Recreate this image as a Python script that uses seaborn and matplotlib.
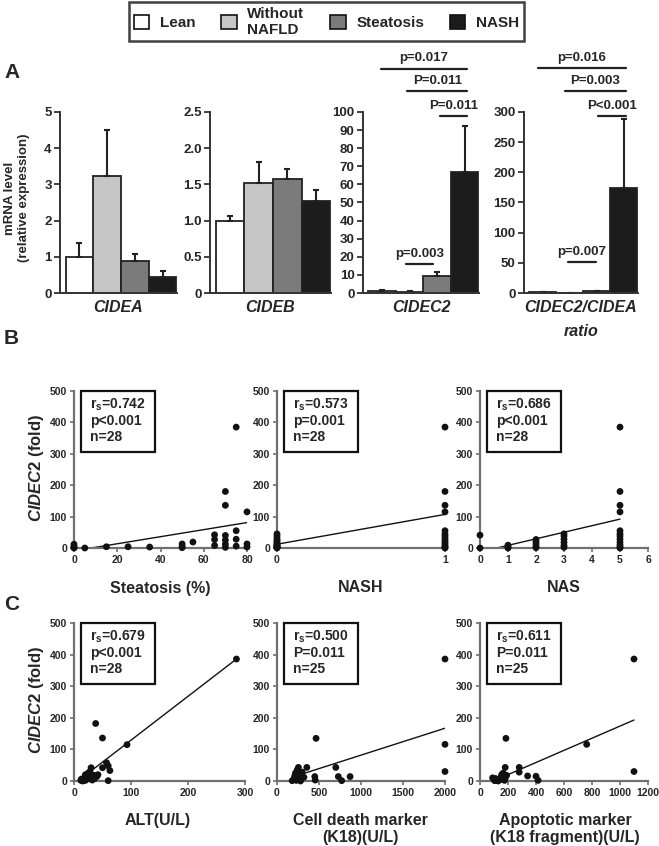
import numpy as np
import pandas as pd
import matplotlib
matplotlib.use('Agg')
import matplotlib.pyplot as plt
import seaborn as sns
from matplotlib.patches import Patch, Rectangle

# ---------------- data ----------------
groups = ['Lean', 'Without\nNAFLD', 'Steatosis', 'NASH']
group_colors = ['#ffffff', '#c6c6c6', '#7b7b7b', '#1c1c1c']

cidea_mean = [1.0, 3.24, 0.88, 0.44]
cidea_err = [0.38, 1.26, 0.19, 0.16]
cideb_mean = [1.0, 1.52, 1.57, 1.27]
cideb_err = [0.07, 0.29, 0.14, 0.15]
cidec2_mean = [1.3, 0.7, 9.6, 67.0]
cidec2_err = [0.3, 0.2, 2.0, 25.0]
ratio_mean = [1.0, 0.5, 3.0, 174.0]
ratio_err = [0.3, 0.2, 1.0, 114.0]

# significance annotations: (from, to, y, label)
cidec2_sig = [(-0.05, 3.1, 124, 'p=0.017'), (0.9, 3.1, 111.5, 'P=0.011'),
              (2.1, 3.1, 97.8, 'P=0.011'), (0.85, 1.85, 16, 'p=0.003')]
ratio_sig = [(-0.2, 3.07, 373, 'p=0.016'), (0.8, 3.07, 335, 'P=0.003'),
             (2.03, 3.07, 293, 'P<0.001'), (0.93, 1.95, 51, 'p=0.007')]

steatosis_x = [0, 0, 0, 0, 5, 15, 25, 35, 50, 50, 50, 55, 65, 65, 65, 70, 70, 70, 70, 70,
               75, 75, 75, 75, 80, 80, 80, 70]
steatosis_y = [12, 6, 2, 0, 0, 4, 4, 3, 13, 5, 1, 19, 42, 27, 8, 180, 136, 40, 12, 2,
               385, 55, 28, 6, 115, 13, 3, 25]
steatosis_fit_x = [8, 80]
steatosis_fit_y = [0, 81]

nash_x = [0] * 14 + [1] * 14
nash_y = [45, 38, 30, 25, 20, 15, 12, 8, 6, 4, 3, 2, 1, 0,
          385, 180, 136, 115, 55, 45, 38, 30, 24, 18, 12, 6, 2, 0]
nash_fit_x = [0, 1]
nash_fit_y = [12, 107]

nas_x = [0, 0, 1, 1, 1, 2, 2, 2, 2, 2, 3, 3, 3, 3, 3, 3] + [5] * 12
nas_y = [41, 0, 9, 4, 0, 27, 20, 13, 5, 1, 45, 38, 28, 18, 8, 2,
         385, 180, 136, 115, 55, 45, 38, 28, 18, 10, 4, 0]
nas_fit_x = [0.6, 5]
nas_fit_y = [0, 92]

alt_x = [285, 38, 50, 93, 57, 60, 63, 50, 30, 60, 12, 13, 15, 18, 20, 22, 24, 25, 27, 28,
         30, 32, 35, 36, 40, 42, 20, 16]
alt_y = [386, 182, 136, 115, 58, 48, 33, 42, 42, 1, 2, 6, 0, 10, 20, 5, 15, 25, 8, 30,
         12, 3, 18, 8, 14, 20, 2, 1]
alt_fit_x = [12, 285]
alt_fit_y = [7, 386]

k18_x = [2000, 2000, 2000, 465, 700, 730, 770, 870, 355, 255, 450, 455, 200, 210, 220,
         230, 240, 250, 260, 270, 280, 290, 300, 180, 320]
k18_y = [386, 116, 30, 135, 43, 14, 1, 14, 43, 43, 14, 3, 5, 15, 25, 2, 35, 10, 20, 5,
         0, 8, 28, 1, 12]
k18_fit_x = [180, 2000]
k18_fit_y = [12, 167]

k18f_x = [1100, 1100, 762, 185, 180, 280, 280, 340, 400, 415, 90, 100, 110, 120, 130,
          140, 150, 155, 160, 165, 170, 175, 180, 190, 105]
k18f_y = [386, 30, 116, 135, 43, 43, 28, 16, 15, 2, 10, 5, 8, 2, 0, 4, 12, 20, 6, 25,
          14, 2, 9, 18, 1]
k18f_fit_x = [95, 1100]
k18f_fit_y = [0, 193]

stats = {
    'B1': ['r$_{\\rm s}$=0.742', 'p<0.001', 'n=28'],
    'B2': ['r$_{\\rm s}$=0.573', 'p=0.001', 'n=28'],
    'B3': ['r$_{\\rm s}$=0.686', 'p<0.001', 'n=28'],
    'C1': ['r$_{\\rm s}$=0.679', 'p<0.001', 'n=28'],
    'C2': ['r$_{\\rm s}$=0.500', 'P=0.011', 'n=25'],
    'C3': ['r$_{\\rm s}$=0.611', 'P=0.011', 'n=25'],
}

# ---------------- style ----------------
sns.set_theme(style='ticks')
plt.rcParams['font.family'] = ['Liberation Sans', 'DejaVu Sans']
plt.rcParams['font.weight'] = 'bold'
plt.rcParams['mathtext.fontset'] = 'custom'
plt.rcParams['mathtext.rm'] = 'Liberation Sans:bold'
plt.rcParams['mathtext.it'] = 'Liberation Sans:italic:bold'
plt.rcParams['mathtext.bf'] = 'Liberation Sans:bold'

W, H = 659, 846
fig = plt.figure(figsize=(W / 100, H / 100), dpi=100)
fig.patch.set_facecolor('white')


def add_ax(left, top, right, bottom):
    return fig.add_axes([left / W, 1 - bottom / H, (right - left) / W, (bottom - top) / H])


def bar_panel(ax, means, errs, ymax, yticks, yticklabels, sig=None):
    df = pd.DataFrame({'group': groups, 'value': means})
    sns.barplot(data=df, x='group', y='value', hue='group', palette=group_colors,
                width=1.0, edgecolor='#222222', linewidth=1.3, legend=False, ax=ax)
    ax.errorbar(np.arange(4), means, yerr=[np.zeros(4), errs], fmt='none',
                ecolor='#222222', elinewidth=1.5, capsize=2.5, capthick=1.5, zorder=1)
    ax.set_xlim(-0.7, 3.52)
    ax.set_ylim(0, ymax)
    ax.set_yticks(yticks)
    ax.set_yticklabels(yticklabels)
    ax.set_xticks([])
    ax.set_xlabel('')
    ax.set_ylabel('')
    sns.despine(ax=ax)
    for s in ['left', 'bottom']:
        ax.spines[s].set_linewidth(1.4)
        ax.spines[s].set_color('#333333')
    ax.tick_params(axis='y', length=4, width=1.3, color='#333333', labelsize=9.5, pad=2)
    for lab in ax.get_yticklabels():
        lab.set_fontweight('bold')
    ax.set_facecolor('none')
    if sig:
        for x0, x1, y, lab in sig:
            ax.plot([x0, x1], [y, y], color='#222222', lw=1.6, clip_on=False)
            ax.annotate(lab, xy=((x0 + x1) / 2, y), xytext=(0, 3), textcoords='offset points',
                        ha='center', va='bottom', fontsize=9.5, fontweight='bold',
                        annotation_clip=False)


def scatter_panel(ax, x, y, fx, fy, xmax, xticks, stat_lines, wpx, hpx):
    sns.scatterplot(x=x, y=y, ax=ax, color='#111111', s=24, edgecolor='none',
                    clip_on=False, zorder=3)
    sns.lineplot(x=fx, y=fy, ax=ax, color='#111111', lw=1.0)
    ax.set_xlim(0, xmax)
    ax.set_ylim(0, 500)
    ax.set_xticks(xticks)
    ax.set_yticks([0, 100, 200, 300, 400, 500])
    ax.set_xlabel('')
    ax.set_ylabel('')
    sns.despine(ax=ax)
    for s in ['left', 'bottom']:
        ax.spines[s].set_linewidth(1.6)
        ax.spines[s].set_color('#707070')
    ax.tick_params(length=3, width=1.2, color='#707070', labelsize=7.5, pad=2)
    for lab in ax.get_xticklabels() + ax.get_yticklabels():
        lab.set_fontweight('bold')
    ax.set_facecolor('none')
    ax.add_patch(Rectangle((7 / wpx, 1 - 61 / hpx), 74 / wpx, 61 / hpx,
                           transform=ax.transAxes, fill=False, ec='#111111', lw=1.6,
                           clip_on=False))
    for k, t in enumerate(stat_lines):
        ax.text(16 / wpx, 1 - (14 + 16 * k) / hpx, t, transform=ax.transAxes,
                ha='left', va='center', fontsize=10, fontweight='bold')


# ---------------- panel A ----------------
axA1 = add_ax(60, 112, 177, 293)
bar_panel(axA1, cidea_mean, cidea_err, 5, [0, 1, 2, 3, 4, 5], ['0', '1', '2', '3', '4', '5'])
axA2 = add_ax(210, 112, 331, 293)
bar_panel(axA2, cideb_mean, cideb_err, 2.5, [0, 0.5, 1.0, 1.5, 2.0, 2.5],
          ['0', '0.5', '1.0', '1.5', '2.0', '2.5'])
axA3 = add_ax(363, 112, 479, 293)
bar_panel(axA3, cidec2_mean, cidec2_err, 100, list(range(0, 101, 10)),
          [str(v) for v in range(0, 101, 10)], cidec2_sig)
axA4 = add_ax(524, 112, 638, 293)
bar_panel(axA4, ratio_mean, ratio_err, 300, list(range(0, 301, 50)),
          [str(v) for v in range(0, 301, 50)], ratio_sig)

for cx, lab in [(118, 'CIDEA'), (270, 'CIDEB'), (421, 'CIDEC2'), (581, 'CIDEC2/CIDEA')]:
    fig.text(cx / W, 1 - 307 / H, lab, ha='center', va='center', fontsize=11.5,
             fontweight='bold', fontstyle='italic')
fig.text(581 / W, 1 - 331 / H, 'ratio', ha='center', va='center', fontsize=11.5,
         fontweight='bold', fontstyle='italic')
fig.text(17 / W, 1 - 198 / H, 'mRNA level\n(relative expression)', rotation=90,
         ha='center', va='center', fontsize=9.5, fontweight='bold', linespacing=1.15)

# ---------------- panel B ----------------
axB1 = add_ax(74, 391, 247, 548)
scatter_panel(axB1, steatosis_x, steatosis_y, steatosis_fit_x, steatosis_fit_y, 80,
              [0, 20, 40, 60, 80], stats['B1'], 173, 157)
axB2 = add_ax(277, 391, 445, 548)
scatter_panel(axB2, nash_x, nash_y, nash_fit_x, nash_fit_y, 1, [0, 1], stats['B2'], 168, 157)
axB3 = add_ax(480, 391, 648, 548)
scatter_panel(axB3, nas_x, nas_y, nas_fit_x, nas_fit_y, 6, [0, 1, 2, 3, 4, 5, 6],
              stats['B3'], 168, 157)

for cx, lab in [(160, 'Steatosis (%)'), (361, 'NASH'), (564, 'NAS')]:
    fig.text(cx / W, 1 - 588 / H, lab, ha='center', va='center', fontsize=11.5,
             fontweight='bold')

# ---------------- panel C ----------------
axC1 = add_ax(74, 623, 245, 781)
scatter_panel(axC1, alt_x, alt_y, alt_fit_x, alt_fit_y, 300, [0, 100, 200, 300],
              stats['C1'], 171, 158)
axC2 = add_ax(277, 623, 445, 781)
scatter_panel(axC2, k18_x, k18_y, k18_fit_x, k18_fit_y, 2000, [0, 500, 1000, 1500, 2000],
              stats['C2'], 168, 158)
axC3 = add_ax(480, 623, 648, 781)
scatter_panel(axC3, k18f_x, k18f_y, k18f_fit_x, k18f_fit_y, 1200,
              [0, 200, 400, 600, 800, 1000, 1200], stats['C3'], 168, 158)

fig.text(158 / W, 1 - 820 / H, 'ALT(U/L)', ha='center', va='center', fontsize=11.5,
         fontweight='bold')
fig.text(360 / W, 1 - 829 / H, 'Cell death marker\n(K18)(U/L)', ha='center', va='center',
         fontsize=11.5, fontweight='bold', linespacing=1.1)
fig.text(565 / W, 1 - 829 / H, 'Apoptotic marker\n(K18 fragment)(U/L)', ha='center',
         va='center', fontsize=11.5, fontweight='bold', linespacing=1.1)

for cy in [468, 700]:
    fig.text(36 / W, 1 - cy / H, '$\\mathit{CIDEC2}$ (fold)', rotation=90, ha='center',
             va='center', fontsize=12, fontweight='bold')

# panel letters
for cy, lab in [(73, 'A'), (338, 'B'), (605, 'C')]:
    fig.text(4 / W, 1 - cy / H, lab, ha='left', va='center', fontsize=15, fontweight='bold')

# ---------------- legend ----------------
handles = [Patch(facecolor=c, edgecolor='#111111', linewidth=1.2) for c in group_colors]
leg = fig.legend(handles, groups, loc='upper center', bbox_to_anchor=(326.5 / W, 1 - 2 / H),
                 ncol=4, frameon=True, fancybox=False, edgecolor='#111111',
                 prop={'weight': 'bold', 'size': 11}, handlelength=1.0, handleheight=1.0,
                 handletextpad=0.7, columnspacing=1.7, borderpad=0.3, labelspacing=0.2,
                 borderaxespad=0)
leg.get_frame().set_linewidth(1.8)

fig.savefig('out.png', dpi=100, facecolor='white')
